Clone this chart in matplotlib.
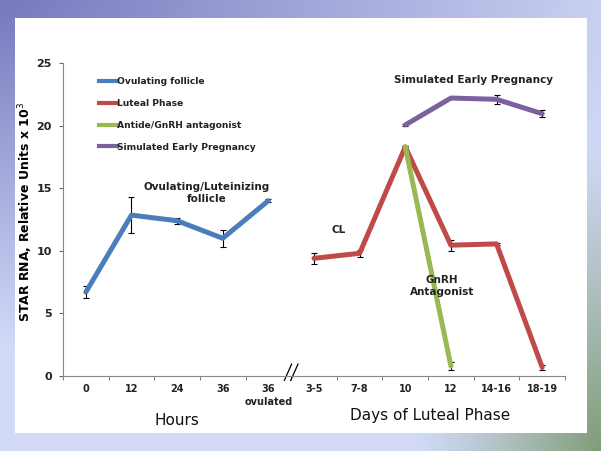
import numpy as np
import matplotlib
matplotlib.use("Agg")
import matplotlib.pyplot as plt
from matplotlib.patches import Rectangle
from matplotlib.lines import Line2D

# categories along the x axis
categories = ["0", "12", "24", "36", "36\novulated", "3-5", "7-8", "10", "12", "14-16", "18-19"]

# series (index into categories, value, error)
follicle_x = [0, 1, 2, 3, 4]
follicle_y = [6.7, 12.85, 12.4, 11.0, 14.0]
follicle_err = [0.45, 1.45, 0.25, 0.7, 0.1]

luteal_x = [5, 6, 7, 8, 9, 10]
luteal_y = [9.4, 9.8, 18.3, 10.45, 10.55, 0.7]
luteal_err = [0.45, 0.3, 0.1, 0.45, 0.1, 0.2]

antag_x = [7, 8]
antag_y = [18.3, 0.8]
antag_err = [0.1, 0.3]

preg_x = [7, 8, 9, 10]
preg_y = [20.05, 22.2, 22.1, 20.95]
preg_err = [0.1, 0.1, 0.35, 0.3]

series_names = ["Ovulating follicle", "Luteal Phase", "Antide/GnRH antagonist", "Simulated Early Pregnancy"]
series_colors = ["#4a7ebb", "#be4b48", "#98b954", "#7d60a0"]

W, H = 601, 451
fig = plt.figure(figsize=(W / 100, H / 100), dpi=100)

# gradient backdrop
bg = fig.add_axes([0, 0, 1, 1])
yy, xx = np.mgrid[0:H, 0:W]
xn, yn = xx / W, yy / H
dark = np.array([118, 122, 190]) / 255
light = np.array([210, 218, 248]) / 255
green = np.array([128, 156, 118]) / 255
t = np.clip(np.sqrt((xn * 0.9) ** 2 + (yn * 1.3) ** 2) / 1.0, 0, 1)[..., None]
img = dark * (1 - t) + light * t
g = np.clip(1 - np.sqrt(((1 - xn) * 1.6) ** 2 + ((1 - yn) * 0.7) ** 2) / 0.5, 0, 1)[..., None] ** 1.2
img = img * (1 - g) + green * g
bg.imshow(img, extent=[0, 1, 0, 1], aspect="auto", origin="upper")
bg.add_patch(Rectangle((15 / W, 1 - 433 / H), (587 - 15) / W, (433 - 18) / H,
                       facecolor="white", edgecolor="none", transform=bg.transAxes))
bg.set_axis_off()

ax = fig.add_axes([63 / W, 1 - 376 / H, (565 - 63) / W, (376 - 63) / H])
ax.patch.set_alpha(0)

lw = 3.6
kw = dict(lw=lw, ecolor="black", elinewidth=0.8, capsize=2, capthick=0.8, solid_capstyle="round")
ax.errorbar(follicle_x, follicle_y, yerr=follicle_err, color=series_colors[0], **kw)
ax.errorbar(luteal_x, luteal_y, yerr=luteal_err, color=series_colors[1], **kw)
ax.errorbar(antag_x, antag_y, yerr=antag_err, color=series_colors[2], **kw)
ax.errorbar(preg_x, preg_y, yerr=preg_err, color=series_colors[3], **kw)

ax.set_xlim(-0.5, 10.5)
ax.set_ylim(0, 25)
ax.set_yticks([0, 5, 10, 15, 20, 25])
ax.set_xticks(range(len(categories)))
ax.set_xticklabels([])
ax.set_xticks(np.arange(-0.5, 11, 1), minor=True)
ax.tick_params(axis="x", which="major", length=0)
ax.tick_params(axis="x", which="minor", length=3, direction="out", color="#666666")
ax.tick_params(axis="y", length=3, color="#666666", labelsize=8, pad=5)
for lab in ax.get_yticklabels():
    lab.set_fontweight("bold")
    lab.set_color("#222222")
for s in ["top", "right"]:
    ax.spines[s].set_visible(False)
for s in ["left", "bottom"]:
    ax.spines[s].set_color("#888888")
    ax.spines[s].set_linewidth(0.8)

for i, lab in enumerate(categories):
    lines = lab.split("\n")
    ax.text(i, -0.65, lines[0], ha="center", va="top", fontsize=7, color="#222222", fontweight="bold")
    if len(lines) > 1:
        ax.text(i, -1.65, lines[1], ha="center", va="top", fontsize=7, color="#222222", fontweight="bold")

# axis break mark
for dx in (-0.07, 0.07):
    ax.plot([4.5 + dx - 0.08, 4.5 + dx + 0.08], [-0.35, 0.95], color="black", lw=0.9, clip_on=False)

ax.set_ylabel("STAR RNA, Relative Units x 10$^3$", fontsize=9, fontweight="bold", labelpad=1)
ax.yaxis.label.set_y(0.525)

ax.text(2.0, -2.95, "Hours", ha="center", va="top", fontsize=11, color="#111111")
ax.text(7.55, -2.55, "Days of Luteal Phase", ha="center", va="top", fontsize=11, color="#111111")

ann = dict(ha="center", va="center", fontsize=7.5, color="#222222", fontweight="bold")
ax.text(2.65, 14.6, "Ovulating/Luteinizing\nfollicle", linespacing=1.2, **ann)
ax.text(5.55, 11.7, "CL", **ann)
ax.text(7.8, 7.2, "GnRH\nAntagonist", linespacing=1.3, **ann)
ax.text(8.5, 23.65, "Simulated Early Pregnancy", **ann)

handles = [Line2D([], [], color=c, lw=3) for c in series_colors]
leg = ax.legend(handles, series_names, loc="upper left", bbox_to_anchor=(0.072, 0.955), frameon=False,
                fontsize=6.6, handlelength=2.0, handletextpad=0.0, labelspacing=1.4, borderaxespad=0,
                borderpad=0)
for txt in leg.get_texts():
    txt.set_fontweight("bold")
    txt.set_color("#222222")

fig.savefig("out.png", dpi=100)
